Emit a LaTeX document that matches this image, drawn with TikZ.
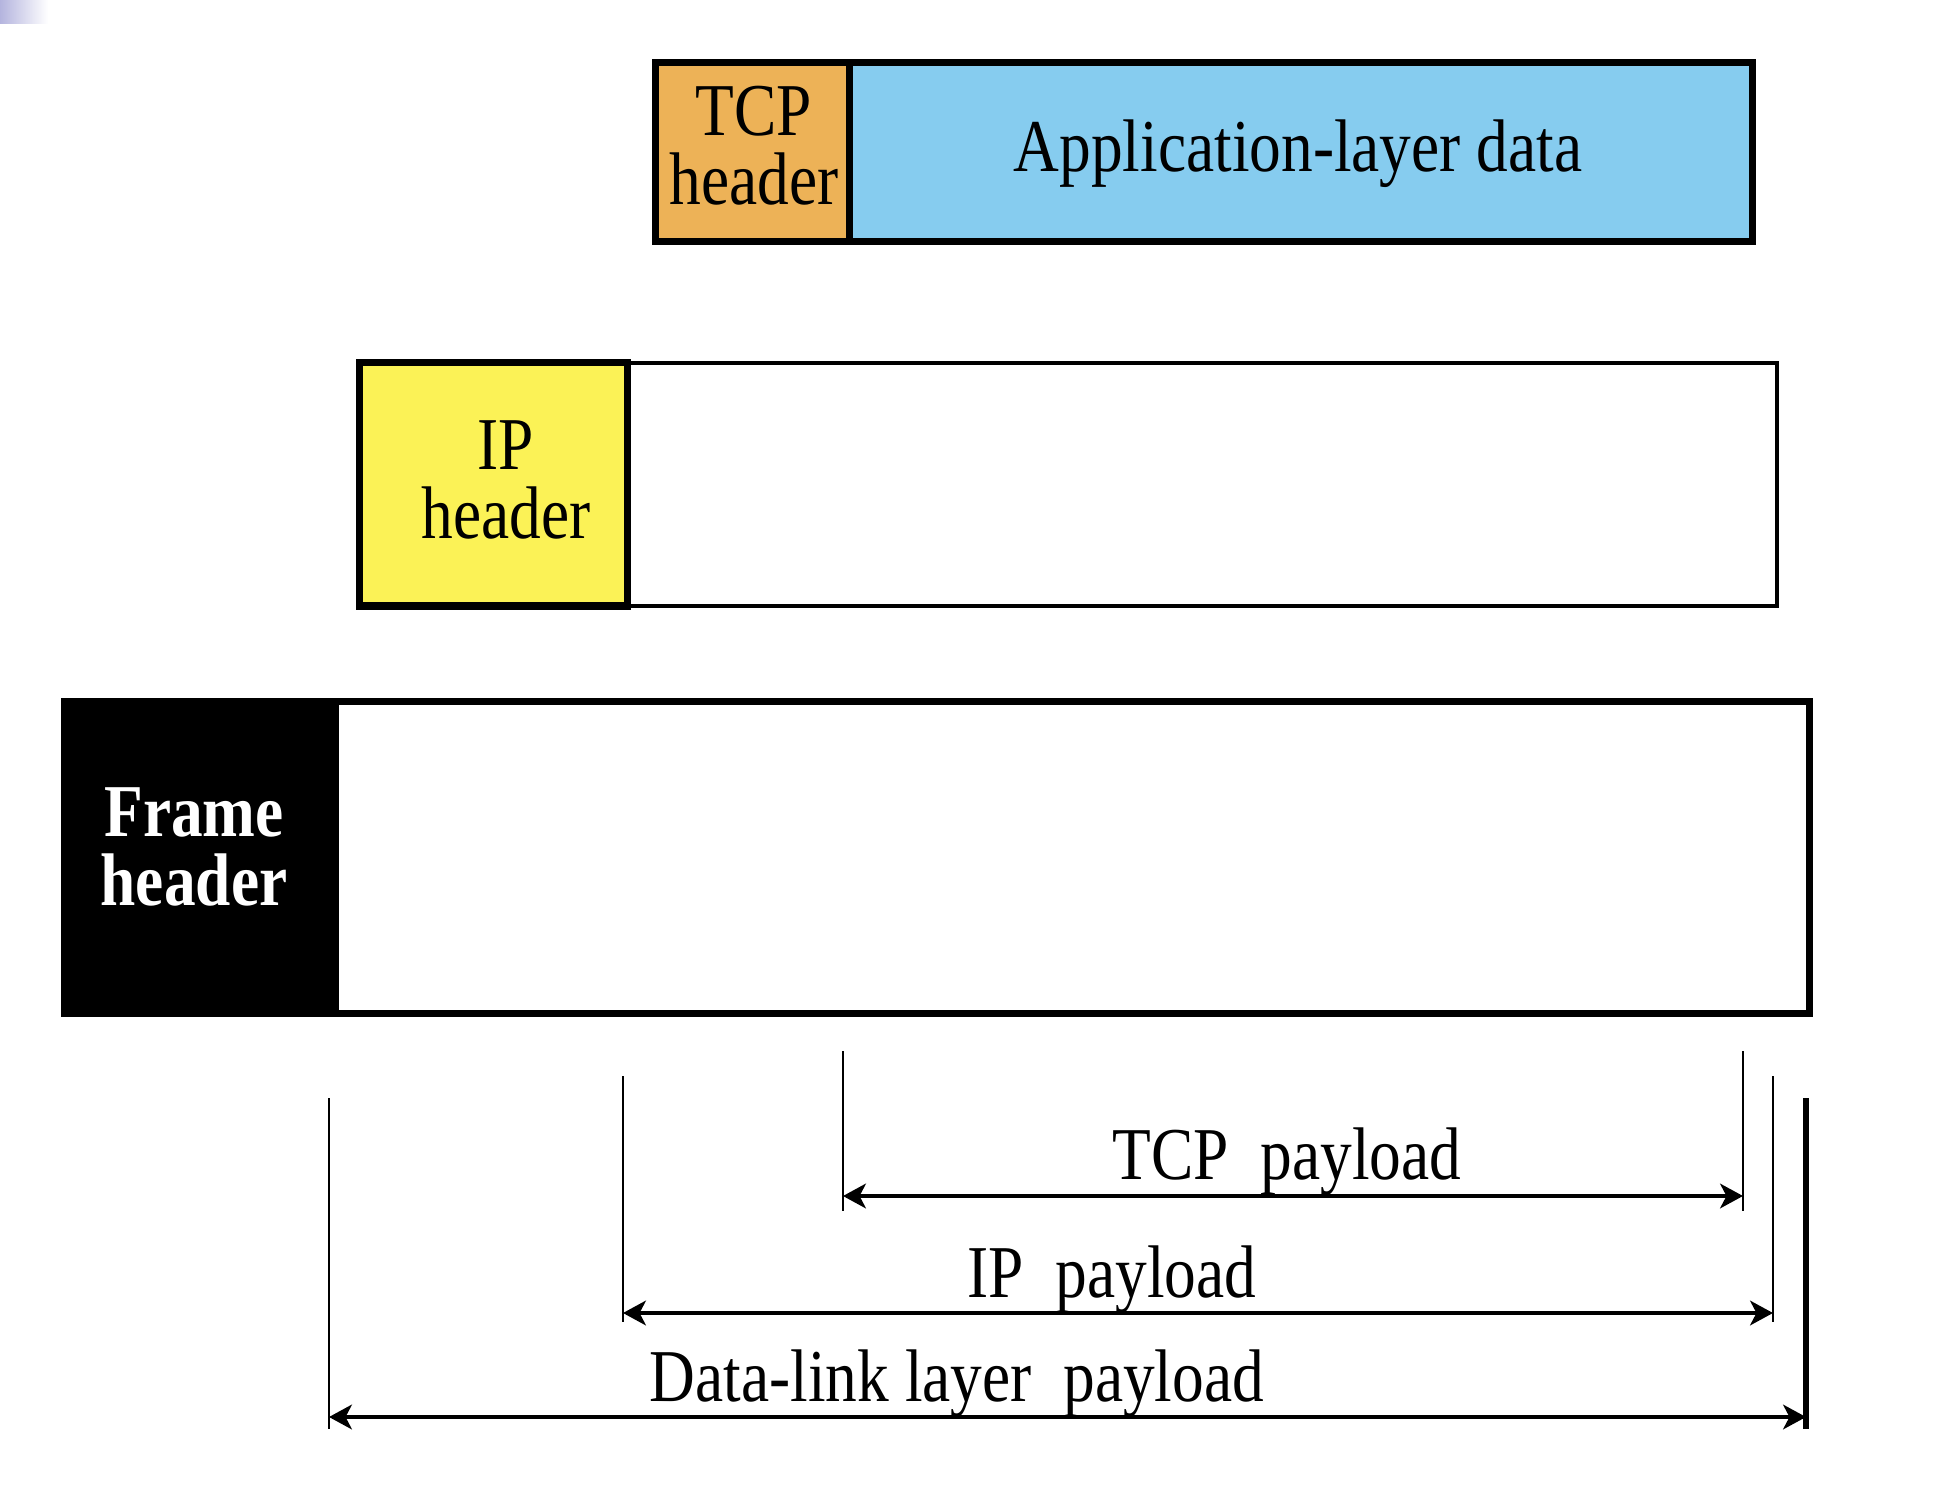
\documentclass[tikz,border=0pt]{standalone}
\usepackage{fontspec}
\setmainfont{Liberation Serif}[FakeStretch=0.85]
\usetikzlibrary{arrows.meta}
\definecolor{tcporange}{HTML}{EDB257}
\definecolor{appblue}{HTML}{86CCEF}
\definecolor{ipyellow}{HTML}{FBF256}
\definecolor{slidepurple}{HTML}{B4B4DE}
\begin{document}
\begin{tikzpicture}[x=0.01cm, y=-0.01cm, line join=miter, >={Stealth[length=6.5pt,width=7pt,inset=1.8pt]},
	thickbox/.style={draw, line width=2pt},
	thinbox/.style={draw, line width=1.1pt},
	lbl/.style={inner sep=0pt, font=\fontsize{21.2}{19.6}\selectfont},
	tick/.style={line width=0.6pt},
	span/.style={<->, line width=1.1pt}]
		\useasboundingbox (0,0) rectangle (1951,1503);
		\shade[left color=slidepurple, right color=white] (0,0) rectangle (48,24);
		\def\ta{1196}
		\def\ia{1313}
		\def\da{1417}
		\path
		(843,1051) coordinate (TL)
		(843,1211) coordinate (TL1)
		(1743,1051) coordinate (TR)
		(1743,1211) coordinate (TR1)
		(623,1076) coordinate (IL)
		(623,1322) coordinate (IL1)
		(1773,1076) coordinate (IR)
		(1773,1322) coordinate (IR1)
		(329,1098) coordinate (DL)
		(329,1429) coordinate (DL1)
		(1806,1098) coordinate (DR)
		(1806,1429) coordinate (DR1)
		(843,\ta) coordinate (TA)
		(1743,\ta) coordinate (TB)
		(623,\ia) coordinate (IA)
		(1773,\ia) coordinate (IB)
		(329,\da) coordinate (DA)
		(1806,\da) coordinate (DB)
		;
		\draw[thickbox, fill=tcporange] (655.5,62.5) rectangle (849.5,241.5);
		\draw[thickbox, fill=appblue] (849.5,62.5) rectangle (1752.5,241.5);
		\draw[thinbox, fill=white] (627.5,363) rectangle (1777,606);
		\draw[thickbox, fill=ipyellow] (359.5,362.5) rectangle (627.5,606);
		\fill[black] (61,698) rectangle (335,1017);
		\draw[thickbox] (335,701.5) rectangle (1809.5,1013.5);
		\node[lbl, align=center] (tcph) at (754,146) {TCP\\header};
		\node[lbl, anchor=base] (appd) at (1298,172) {Application-layer data};
		\node[lbl, align=center] (iph) at (506,480) {IP\\header};
		\node[lbl, align=center, text=white, font=\fontsize{21.2}{19.6}\selectfont\bfseries] (frh) at (194,847) {Frame\\header};
		\draw[tick] (TL)--(TL1) (TR)--(TR1) (IL)--(IL1) (IR)--(IR1) (DL)--(DL1);
		\draw[line width=1.7pt] (DR)--(DR1);
		\draw[span] (TA)--(TB);
		\draw[span] (IA)--(IB);
		\draw[span] (DA)--(DB);
		\node[lbl, anchor=base] (tcpp) at (1287,1179) {TCP\ \ payload};
		\node[lbl, anchor=base] (ipp) at (1112,1297) {IP\ \ payload};
		\node[lbl, anchor=base] (dlp) at (957,1401) {Data-link layer\ \ payload};
\end{tikzpicture}
\end{document}
